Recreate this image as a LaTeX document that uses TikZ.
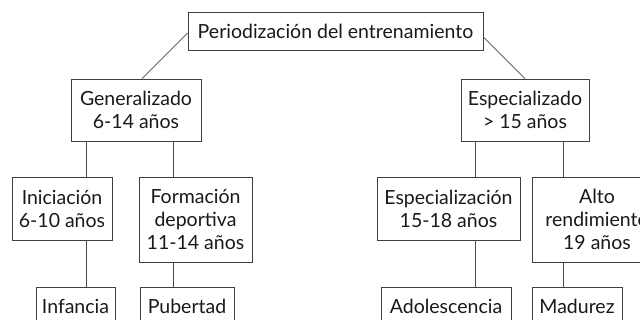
\documentclass[tikz,border=0pt]{standalone}
\usepackage{fontspec}
\setmainfont{Lato}
\begin{document}
\begin{tikzpicture}[x=1pt,y=-1pt,
  caja/.style={draw=black!75, line width=0.8pt, align=center, inner sep=0pt, text=black!90},
  rama/.style={draw=black!70, line width=0.8pt}]
				\fontsize{19.5}{23}\selectfont
				\useasboundingbox (0,0) rectangle (640,320);
				\clip (0,0) rectangle (640,320);
				% Root
				\node[caja, minimum width=295pt, minimum height=38pt] (periodo) at (335.5,31) {Periodización del entrenamiento};
				
				% Second level
				\node[caja, minimum width=130pt, minimum height=62pt] (general) at (136,110) {Generalizado\\6-14 años};
				\node[caja, minimum width=128pt, minimum height=62pt] (especial) at (525,110) {Especializado\\> 15 años};
				
				% Third level
				\node[caja, minimum width=100pt, minimum height=63pt] (inicia) at (62,208.5) {Iniciación\\6-10 años};
				\node[caja, minimum width=113pt, minimum height=85pt] (forma) at (195.5,219.5) {Formación\\deportiva\\11-14 años};
				\node[caja, minimum width=143pt, minimum height=63pt] (especializa) at (448.5,208.5) {Especialización\\15-18 años};
				\node[caja, minimum width=130pt, minimum height=85pt] (alto) at (597,219.5) {Alto\\rendimiento\\19 años};
				
				% Life stages
				\node[caja, minimum width=79pt, minimum height=38pt] (infancia) at (75.5,306) {Infancia};
				\node[caja, minimum width=94pt, minimum height=38pt] (pubertad) at (187,306) {Pubertad};
				\node[caja, minimum width=130pt, minimum height=38pt] (adolesc) at (446,306) {Adolescencia};
				\node[caja, minimum width=90pt, minimum height=38pt] (madurez) at (577,306) {Madurez};
				
				% Branch columns
				\coordinate (c1) at (86,0);
				\coordinate (c2) at (173,0);
				\coordinate (c3) at (475,0);
				\coordinate (c4) at (563,0);
				
				\draw[rama] ([yshift=-2pt]periodo.west) -- ([xshift=6pt]general.north);
				\draw[rama] ([yshift=-6pt]periodo.east) -- (especial.north);
				\draw[rama] (general.south -| c1) -- (inicia.north -| c1);
				\draw[rama] (general.south -| c2) -- (forma.north -| c2);
				\draw[rama] (especial.south -| c3) -- (especializa.north -| c3);
				\draw[rama] (especial.south -| c4) -- (alto.north -| c4);
				\draw[rama] (inicia.south -| c1) -- (infancia.north -| c1);
				\draw[rama] (forma.south -| c2) -- (pubertad.north -| c2);
				\draw[rama] (especializa.south -| c3) -- (adolesc.north -| c3);
				\draw[rama] (alto.south -| c4) -- (madurez.north -| c4);
			\end{tikzpicture}
\end{document}
